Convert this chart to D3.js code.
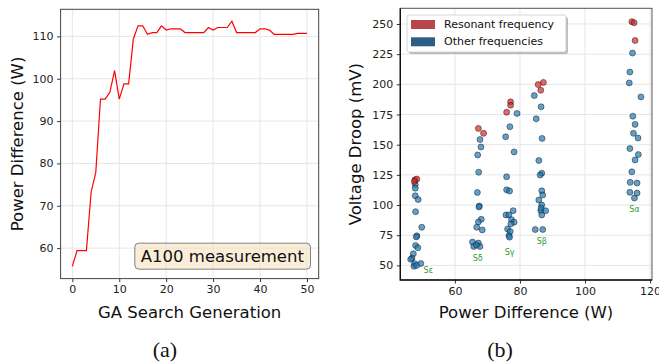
<!DOCTYPE html>
<html>
<head>
<meta charset="utf-8">
<script src="https://cdn.jsdelivr.net/npm/d3@7"></script>
<style>
  body { margin: 0; background: #fff; }
  text { font-family: "DejaVu Sans", sans-serif; }
</style>
</head>
<body>
<div id="chart"></div>
<script>
// (a) GA search: best power difference per generation
var generations = d3.range(0, 51);
var powerDiff = [55.7, 59.4, 59.4, 59.4, 73.2, 77.9, 95.2, 95.2, 96.8, 101.9,
  95.2, 98.8, 98.8, 109.4, 112.5, 112.5, 110.5, 110.9, 110.9, 112.5,
  111.5, 111.8, 111.8, 111.8, 110.9, 110.9, 110.9, 110.9, 110.9, 112.1,
  111.5, 112.1, 112.1, 112.1, 113.6, 110.9, 110.9, 110.9, 110.9, 110.9,
  111.8, 111.8, 111.5, 110.5, 110.5, 110.5, 110.5, 110.5, 110.7, 110.7, 110.7];
var leftYTicks = [60, 70, 80, 90, 100, 110];
var leftXTicks = [0, 10, 20, 30, 40, 50];

// (b) scatter: power difference vs voltage droop, per group
var resX = [47.7, 48.3, 47.5, 67.2, 68.8, 77.1, 77.1, 75.9, 87.2, 85.6, 86.4, 114.4, 115.1, 115.4];
var resY = [120.9, 121.5, 119.5, 163.5, 159.4, 185.5, 182.7, 176.9, 201.6, 199.8, 195.1, 251.9, 251.1, 236.3];
var otherX = [
  // S epsilon
  47.8, 47.8, 47.8, 48.7, 47.9, 49.8, 48.3, 48.1, 47.9, 48.6, 47.2, 46.8, 46.4, 47.6, 49.5, 47.4, 48.2,
  // S delta
  67.7, 68.0, 67.0, 67.3, 66.9, 67.5, 67.4, 68.1, 67.2, 66.7, 68.4, 65.4, 65.8, 67.2, 67.7, 66.6,
  // S gamma
  79.1, 76.9, 75.6, 78.2, 75.9, 75.9, 76.8, 77.9, 75.7, 76.6, 77.4, 78.2, 77.2, 76.2, 77.0, 76.6, 76.8,
  // S beta
  84.4, 86.5, 85.0, 86.8, 85.8, 86.7, 86.2, 86.7, 87.0, 85.8, 86.7, 86.4, 87.9, 86.7, 86.5, 84.7, 87.0,
  // S alpha
  114.6, 113.8, 113.6, 117.2, 114.7, 115.4, 114.9, 116.3, 113.8, 116.4, 115.4, 114.4, 113.9, 116.0, 113.8, 116.0, 115.2];
var otherY = [
  117.0, 114.0, 107.7, 104.5, 94.5, 81.6, 74.5, 73.6, 66.5, 64.6, 59.6, 56.0, 55.0, 51.4, 51.6, 49.2, 50.0,
  154.2, 148.1, 141.5, 127.2, 110.4, 99.2, 98.4, 88.2, 86.0, 81.6, 79.4, 69.3, 65.7, 68.5, 65.7, 66.8,
  175.9, 164.9, 156.6, 144.0, 123.4, 112.6, 111.6, 95.3, 91.8, 91.8, 87.9, 85.8, 84.4, 80.2, 78.0, 74.7, 73.4,
  190.7, 181.4, 171.5, 155.2, 136.9, 126.4, 124.8, 111.8, 108.3, 104.2, 100.0, 95.3, 95.3, 91.8, 97.5, 79.7, 79.7,
  225.9, 210.2, 201.2, 189.6, 173.6, 166.8, 159.4, 155.5, 146.8, 141.8, 137.4, 127.5, 118.8, 118.2, 110.5, 109.9, 105.8];
var groupNames = ["S\u03b5", "S\u03b4", "S\u03b3", "S\u03b2", "S\u03b1"];
var groupLabelX = [51.8, 67.0, 76.8, 86.7, 115.2];
var groupLabelY = [45.4, 55.5, 60.5, 69.8, 96.7];
var rightYTicks = [50, 75, 100, 125, 150, 175, 200, 225, 250];
var rightXTicks = [60, 80, 100, 120];
var legendNames = ["Resonant frequency", "Other frequencies"];
var legendColors = ["#b8464a", "#2e5d86"];

var W = 659, H = 362;
var svg = d3.select("#chart").append("svg")
  .attr("width", W).attr("height", H);

function frame(g, x, y, xTicks, yTicks) {
  // grid
  g.append("g").selectAll("line").data(yTicks).join("line")
    .attr("x1", x.range()[0]).attr("x2", x.range()[1])
    .attr("y1", d => y(d)).attr("y2", d => y(d))
    .attr("stroke", "#e6e6e6").attr("stroke-width", 1);
  g.append("g").selectAll("line").data(xTicks).join("line")
    .attr("y1", y.range()[0]).attr("y2", y.range()[1])
    .attr("x1", d => x(d)).attr("x2", d => x(d))
    .attr("stroke", "#e6e6e6").attr("stroke-width", 1);

  var xa = g.append("g").attr("transform", "translate(0," + y.range()[0] + ")")
    .call(d3.axisBottom(x).tickValues(xTicks).tickSize(3.5).tickPadding(3.5).tickSizeOuter(0));
  var ya = g.append("g").attr("transform", "translate(" + x.range()[0] + ",0)")
    .call(d3.axisLeft(y).tickValues(yTicks).tickSize(3.5).tickPadding(3.5).tickSizeOuter(0));
  [xa, ya].forEach(a => {
    a.select(".domain").remove();
    a.selectAll("text").attr("font-size", 11).attr("fill", "#222")
      .attr("font-family", "DejaVu Sans, sans-serif");
    a.selectAll("line").attr("stroke", "#333");
  });
}

// ---------- (a) ----------
var xA = d3.scaleLinear().domain([-2.5, 52.5]).range([60.6, 318.7]);
var yA = d3.scaleLinear().domain([52.8, 116.4]).range([278.6, 9.3]);
var gA = svg.append("g");
frame(gA, xA, yA, leftXTicks, leftYTicks);

gA.append("path")
  .datum(generations)
  .attr("fill", "none").attr("stroke", "#ff0000").attr("stroke-width", 1.2)
  .attr("d", d3.line().x(d => xA(d)).y(d => yA(powerDiff[d])));

gA.append("rect")
  .attr("x", 60.6).attr("y", 9.3).attr("width", 318.7 - 60.6).attr("height", 278.6 - 9.3)
  .attr("fill", "none").attr("stroke", "#444").attr("stroke-width", 1);

// annotation box
var boxG = gA.append("g");
var boxRect = boxG.append("rect");
var txt = boxG.append("text")
  .attr("x", xA(50) - 3).attr("y", yA(58.1))
  .attr("text-anchor", "end").attr("dominant-baseline", "central")
  .attr("font-size", 16.5).attr("fill", "#111")
  .text("A100 measurement");
var bb = txt.node().getBBox();
boxRect
  .attr("x", bb.x - 6).attr("y", yA(58.1) - 13).attr("width", bb.width + 12).attr("height", 26)
  .attr("rx", 4).attr("fill", "#f5deb3").attr("fill-opacity", 0.5)
  .attr("stroke", "#808080").attr("stroke-width", 1);

gA.append("text").attr("transform", "translate(18," + (9.3 + 278.6) / 2 + ") rotate(-90)")
  .attr("text-anchor", "middle").attr("dominant-baseline", "middle")
  .attr("font-size", 16.5).attr("fill", "#111").text("Power Difference (W)");
gA.append("text").attr("x", (60.6 + 318.7) / 2).attr("y", 318)
  .attr("text-anchor", "middle").attr("font-size", 16.5).attr("fill", "#111")
  .text("GA Search Generation");
gA.append("text").attr("x", 165).attr("y", 357)
  .attr("text-anchor", "middle").attr("font-size", 22)
  .style("font-family", "Liberation Serif, serif")
  .attr("fill", "#111").text("(a)");

// ---------- (b) ----------
var xB = d3.scaleLinear().domain([43.2, 120.6]).range([400.3, 652]);
var yB = d3.scaleLinear().domain([37.9, 263.0]).range([280, 8.3]);
var gB = svg.append("g");
frame(gB, xB, yB, rightXTicks, rightYTicks);

gB.append("g").selectAll("circle").data(otherX).join("circle")
  .attr("cx", d => xB(d)).attr("cy", (d, i) => yB(otherY[i])).attr("r", 3)
  .attr("fill", "#1f77b4").attr("fill-opacity", 0.7)
  .attr("stroke", "#000").attr("stroke-opacity", 0.7).attr("stroke-width", 0.6);
gB.append("g").selectAll("circle").data(resX).join("circle")
  .attr("cx", d => xB(d)).attr("cy", (d, i) => yB(resY[i])).attr("r", 3)
  .attr("fill", "#d62728").attr("fill-opacity", 0.7)
  .attr("stroke", "#000").attr("stroke-opacity", 0.7).attr("stroke-width", 0.6);

gB.append("g").selectAll("text").data(groupNames).join("text")
  .attr("x", (d, i) => xB(groupLabelX[i])).attr("y", (d, i) => yB(groupLabelY[i]))
  .attr("text-anchor", "middle").attr("dominant-baseline", "middle")
  .attr("font-size", 8).attr("fill", "#2ca02c").text(d => d);

gB.append("rect")
  .attr("x", 400.3).attr("y", 8.3).attr("width", 652 - 400.3).attr("height", 280 - 8.3)
  .attr("fill", "none").attr("stroke", "#555").attr("stroke-width", 1);
gB.append("path")
  .attr("d", "M400.3,8.3V280H652")
  .attr("fill", "none").attr("stroke", "#111").attr("stroke-width", 1.4);

// legend with shadow
var lg = gB.append("g").attr("transform", "translate(407,15)");
lg.append("rect").attr("x", 2).attr("y", 2).attr("width", 159).attr("height", 37)
  .attr("rx", 2).attr("fill", "#000").attr("fill-opacity", 0.25);
lg.append("rect").attr("width", 159).attr("height", 37).attr("rx", 2)
  .attr("fill", "#fff").attr("stroke", "#ccc").attr("stroke-width", 0.8);
lg.selectAll("g.item").data(legendNames).join("g").attr("class", "item")
  .attr("transform", (d, i) => "translate(4," + (5 + i * 17.3) + ")")
  .each(function (d, i) {
    var it = d3.select(this);
    it.append("rect").attr("width", 24).attr("height", 9).attr("fill", legendColors[i]);
    it.append("text").attr("x", 33).attr("y", 5).attr("dominant-baseline", "middle")
      .attr("font-size", 11).attr("fill", "#111").text(d);
  });

gB.append("text").attr("transform", "translate(356," + (8.3 + 280) / 2 + ") rotate(-90)")
  .attr("text-anchor", "middle").attr("dominant-baseline", "middle")
  .attr("font-size", 16.5).attr("fill", "#111").text("Voltage Droop (mV)");
gB.append("text").attr("x", 526).attr("y", 318)
  .attr("text-anchor", "middle").attr("font-size", 16.5).attr("fill", "#111")
  .text("Power Difference (W)");
gB.append("text").attr("x", 500).attr("y", 357)
  .attr("text-anchor", "middle").attr("font-size", 22)
  .style("font-family", "Liberation Serif, serif")
  .attr("fill", "#111").text("(b)");
</script>
</body>
</html>
